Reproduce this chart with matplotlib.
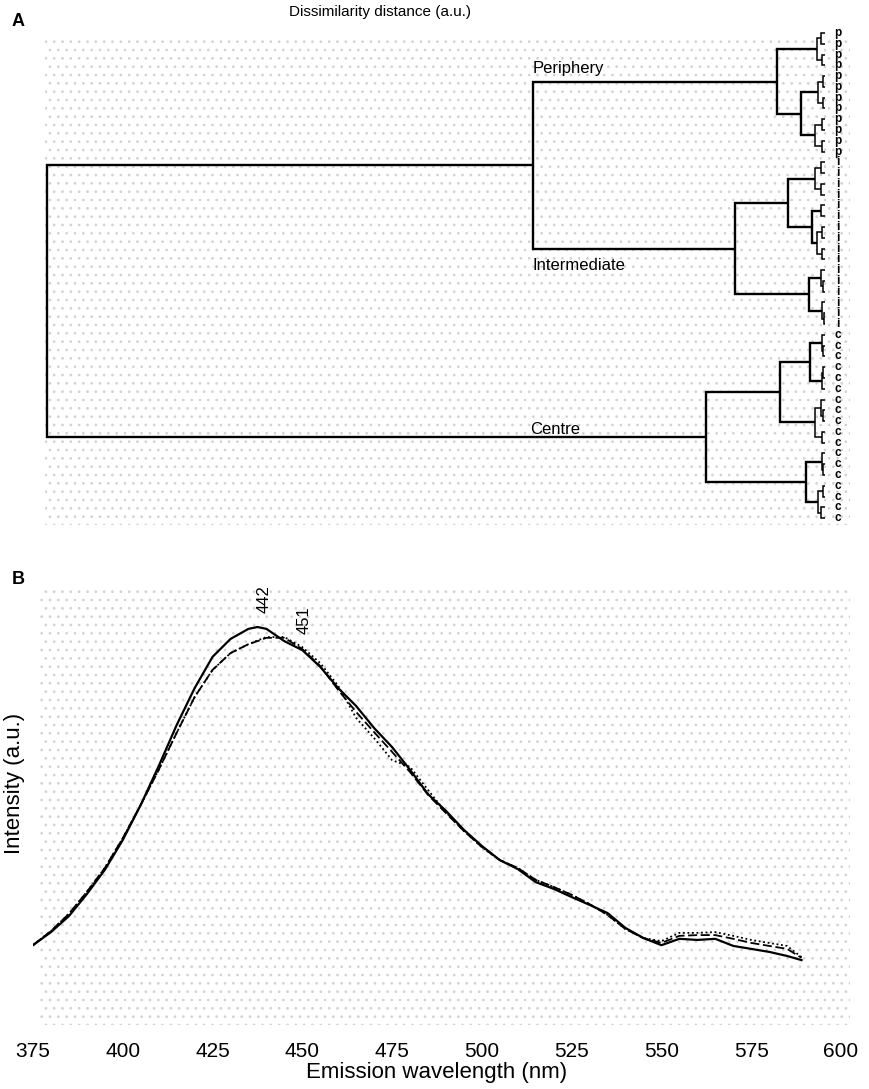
import matplotlib
matplotlib.use("Agg")
import matplotlib.pyplot as plt
from matplotlib.patches import Rectangle

plt.rcParams['font.family'] = ['Liberation Sans', 'DejaVu Sans']
plt.rcParams['hatch.linewidth'] = 0.7

# ---- panel A: dendrogram (node = (distance, left, right), leaf = label)
P_A = (0.10, (0.05, 'p', 'p'), (0.04, 'p', 'p'))
P_B = (0.31, (0.09, (0.03, 'p', 'p'), (0.03, 'p', 'p')),
             (0.13, (0.04, 'p', 'p'), (0.04, 'p', 'p')))
PERIPHERY = (0.62, P_A, P_B)

I_1 = (0.48, (0.13, (0.05, 'i', 'i'), (0.05, 'i', 'i')),
             (0.17, (0.05, 'i', 'i'), (0.10, (0.04, 'i', 'i'), (0.04, 'i', 'i'))))
I_2 = (0.21, (0.05, 'i', (0.03, 'i', 'i')), (0.04, 'i', (0.015, 'i', 'i')))
INTERMEDIATE = (1.16, I_1, I_2)

C_1 = (0.58, (0.19, (0.04, 'c', (0.02, 'c', 'c')), (0.04, (0.02, 'c', 'c'), 'c')),
             (0.13, (0.05, 'c', (0.03, 'c', 'c')), (0.04, 'c', 'c')))
C_2 = (0.24, (0.04, 'c', (0.02, 'c', 'c')),
             (0.09, (0.03, 'c', 'c'), (0.05, 'c', 'c')))
CENTRE = (1.53, C_1, C_2)

ROOT = (10.0, (3.75, PERIPHERY, INTERMEDIATE), CENTRE)

# ---- panel B: emission spectra
wavelength = [375, 380, 385, 390, 395, 400, 405, 410, 415, 420, 425, 430, 435, 437.5,
              440, 445, 450, 455, 460, 465, 470, 475, 480, 485, 490, 495, 500, 505,
              510, 515, 520, 525, 530, 535, 540, 545, 550, 555, 560, 565, 570, 575,
              580, 585, 589]
solid = [14.7, 18.2, 22.5, 28.4, 34.9, 42.9, 52.3, 62.7, 73.7, 83.6, 92.0, 96.8, 99.5, 100.0,
         99.5, 96.2, 93.8, 89.3, 83.6, 78.8, 72.9, 67.8, 61.7, 55.2, 50.7, 45.6, 41.3, 37.5,
         35.1, 31.6, 29.8, 27.6, 25.5, 23.3, 19.3, 16.6, 14.7, 16.4, 16.1, 16.4, 14.5, 13.7,
         12.9, 11.8, 10.7]
dashed = [14.7, 18.5, 23.1, 29.0, 35.4, 43.4, 52.3, 61.7, 71.6, 81.2, 88.5, 93.0, 95.4, 96.2,
          97.1, 97.1, 94.1, 89.5, 83.1, 77.2, 71.8, 66.5, 61.1, 55.0, 50.1, 45.3, 41.0, 37.5,
          35.4, 32.2, 30.3, 28.2, 25.7, 22.8, 19.0, 16.6, 15.3, 17.2, 17.4, 17.4, 16.4, 15.3,
          14.5, 13.7, 11.3]
dotted = [14.7, 18.5, 23.1, 29.0, 35.4, 43.4, 52.3, 61.7, 71.6, 81.2, 88.5, 93.0, 95.4, 96.4,
          97.3, 97.3, 94.6, 90.3, 84.2, 75.6, 70.2, 64.3, 62.5, 56.3, 50.3, 45.3, 41.0, 37.5,
          35.4, 32.2, 30.3, 28.2, 25.7, 22.8, 19.0, 16.6, 15.8, 18.0, 18.0, 18.2, 17.2, 16.1,
          15.3, 14.5, 11.5]
peak_labels = [(442, 437.5), (451, 448.5)]
xticks = [375, 400, 425, 450, 475, 500, 525, 550, 575, 600]

W, H = 869, 1089
fig = plt.figure(figsize=(W / 100, H / 100), dpi=100)

def fig_rect(x0, y0, x1, y1):
    return [x0 / W, 1 - y1 / H, (x1 - x0) / W, (y1 - y0) / H]

# stippled backgrounds
for x0, y0, x1, y1 in [(45, 38, 850, 525), (40, 590, 850, 1025)]:
    r = fig_rect(x0, y0, x1, y1)
    fig.patches.append(Rectangle((r[0], r[1]), r[2], r[3], transform=fig.transFigure,
                                 facecolor='none', edgecolor='#d2d2d2', lw=0,
                                 hatch='..', zorder=-5))

# ---- panel A
axA = fig.add_axes(fig_rect(0, 0, W, 540))
axA.set_zorder(2)
axA.set_xlim(825 / 77.8, -44 / 77.8)
axA.set_ylim((540 - 33) / 10.78, -33 / 10.78)
axA.axis('off')

counter = [0]

def draw(node):
    if isinstance(node, str):
        y = counter[0]
        counter[0] += 1
        axA.text(-0.16, y, node, fontsize=8.5, fontweight='bold',
                 ha='center', va='center')
        return y, 0.0
    h, left, right = node
    yl, hl = draw(left)
    yr, hr = draw(right)
    lw = 1.7 if h > 0.15 else 1.1
    axA.plot([hl, h, h, hr], [yl, yl, yr, yr], color='black', lw=lw,
             solid_joinstyle='miter', solid_capstyle='butt')
    return (yl + yr) / 2, h

draw(ROOT)

fig.text(380 / W, 1 - 12 / H, 'Dissimilarity distance (a.u.)', fontsize=11,
         ha='center', va='center')
fig.text(12 / W, 1 - 22 / H, 'A', fontsize=13, fontweight='bold', va='center')
fig.text(12 / W, 1 - 580 / H, 'B', fontsize=13, fontweight='bold', va='center')
fig.text(533 / W, 1 - 69 / H, 'Periphery', fontsize=12, va='center')
fig.text(533 / W, 1 - 265 / H, 'Intermediate', fontsize=12, va='center')
fig.text(530 / W, 1 - 429 / H, 'Centre', fontsize=12, va='center')

# ---- panel B
axB = fig.add_axes(fig_rect(33, 590, 841, 1025))
axB.set_zorder(2)
axB.patch.set_alpha(0)
axB.plot(wavelength, solid, color='black', lw=1.6, ls='-')
axB.plot(wavelength, dashed, color='black', lw=1.3, ls=(0, (5, 2)))
axB.plot(wavelength, dotted, color='black', lw=1.3, ls=(0, (1, 1.5)))
axB.set_xlim(375, 600)
axB.set_ylim((1000 - 1025) / 3.73, (1000 - 590) / 3.73)
for s in axB.spines.values():
    s.set_visible(False)
axB.set_yticks([])
axB.set_xticks(xticks)
axB.tick_params(axis='x', length=0, pad=12, labelsize=15)
axB.set_xlabel('Emission wavelength (nm)', fontsize=16, labelpad=1)
axB.set_ylabel('Intensity (a.u.)', fontsize=16, va='center')
axB.yaxis.set_label_coords(-18 / 808, 0.556)
axB.annotate(str(peak_labels[0][0]), (peak_labels[0][1], 100), xytext=(5, 10),
             textcoords='offset points', rotation=90, fontsize=12, ha='center', va='bottom')
axB.annotate(str(peak_labels[1][0]), (peak_labels[1][1], 96), xytext=(5, 6),
             textcoords='offset points', rotation=90, fontsize=12, ha='center', va='bottom')

fig.savefig('out.png', dpi=100)
